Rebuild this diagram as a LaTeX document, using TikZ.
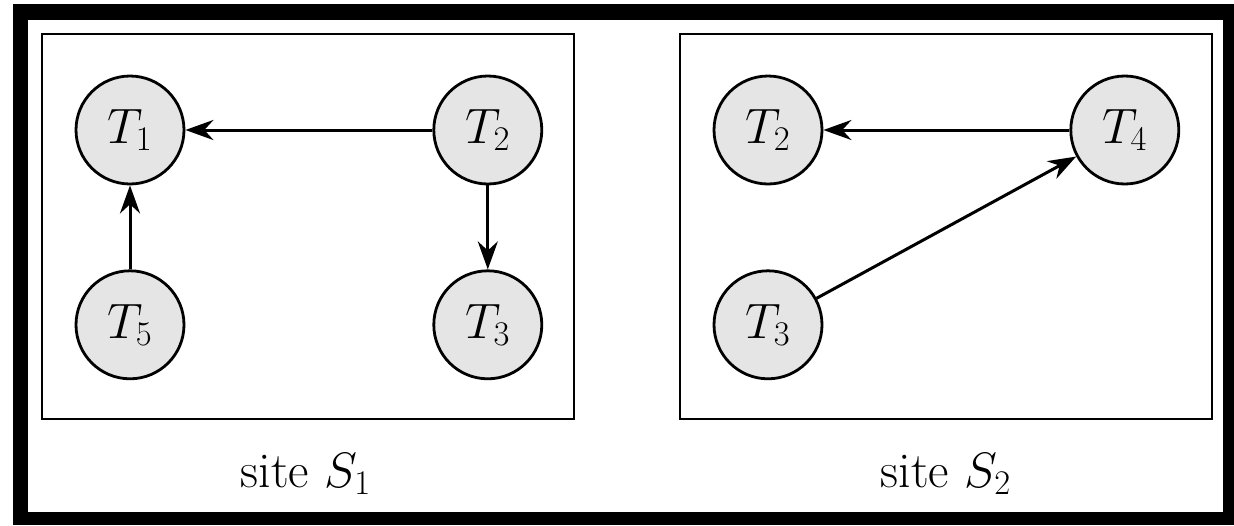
\documentclass[tikz,border=0pt]{standalone}
\usepackage{tikz}
\usetikzlibrary{arrows.meta, positioning}
\tikzset{
    % Transactions and sites
    txn/.style      = {circle, draw=black, line width=1.4pt, fill=black!10,
                       minimum size=54pt, inner sep=0pt, font=\fontsize{26}{30}\selectfont},
    sitebox/.style  = {draw=black, line width=1.1pt},
    sitelabel/.style= {font=\fontsize{25}{30}\selectfont},
    % Edges
    arrow/.style = {line width=1.5pt, ->, >={Stealth[length=14pt, width=10pt]}}
}

\begin{document}
\begin{tikzpicture}[x=0.5pt, y=-0.5pt, node distance=123.5pt and 123.5pt]
    \useasboundingbox (0,0) rectangle (1234,525);
    % Outer frame
    \fill[black] (13,4) rectangle (1234,525);
    \fill[white] (28,20) rectangle (1223,512);

    % Site boxes
    \draw [sitebox] (42,34) rectangle (574,419);
    \draw [sitebox] (680,34) rectangle (1212,419);

    % Site S1
    \node (a1) [txn] at (130,130) {$T_1$};
    \node (a2) [txn, right=of a1] {$T_2$};
    \node (a5) [txn, below=42pt of a1] {$T_5$};
    \node (a3) [txn, below=42pt of a2] {$T_3$};

    % Site S2
    \node (b2) [txn] at (768,130) {$T_2$};
    \node (b4) [txn, right=123pt of b2] {$T_4$};
    \node (b3) [txn, below=42pt of b2] {$T_3$};

    \node (lbl1) [sitelabel] at (306,474) {site $S_1$};
    \node (lbl2) [sitelabel] at (946,474) {site $S_2$};

    \draw [arrow] (a2) -- (a1);
    \draw [arrow] (a2) -- (a3);
    \draw [arrow] (a5) -- (a1);
    \draw [arrow] (b4) -- (b2);
    \draw [arrow] (b3) -- (b4);
\end{tikzpicture}
\end{document}
